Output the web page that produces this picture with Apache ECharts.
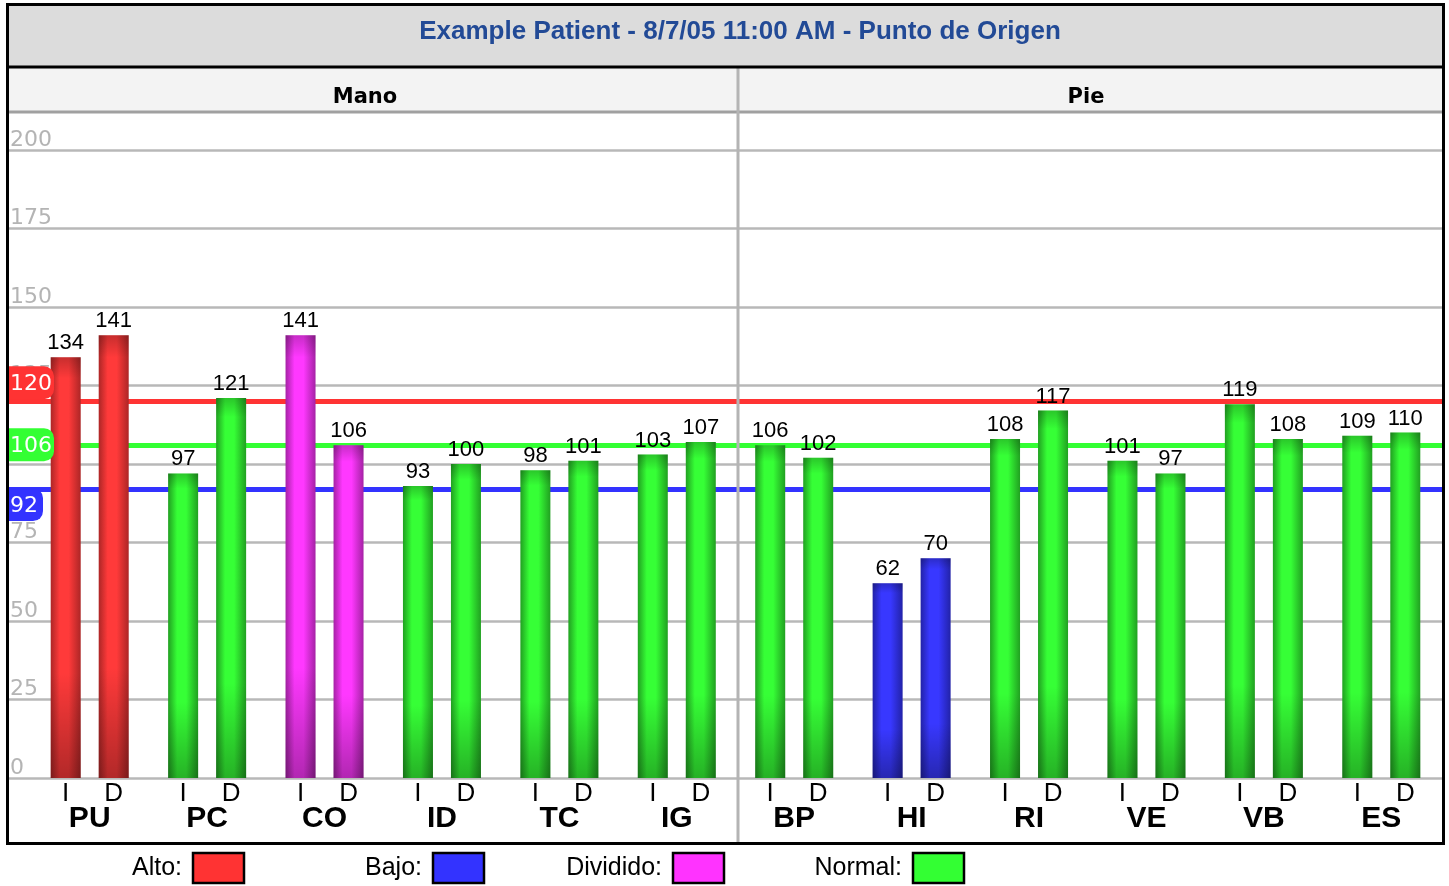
<!DOCTYPE html>
<html>
<head>
<meta charset="utf-8">
<script src="https://cdn.jsdelivr.net/npm/echarts@6/dist/echarts.min.js"></script>
<style>
html,body{margin:0;padding:0;background:#fff;}
#chart{width:1449px;height:886px;}
</style>
</head>
<body>
<div id="chart"></div>
<script>
// ---- data ----
const titleText = 'Example Patient - 8/7/05 11:00 AM - Punto de Origen';
const sections = ['Mano', 'Pie'];
const groups = ['PU','PC','CO','ID','TC','IG','BP','HI','RI','VE','VB','ES'];
const sideLabels = ['I', 'D'];
const valuesI = [134, 97, 141, 93, 98, 103, 106, 62, 108, 101, 119, 109];
const valuesD = [141, 121, 106, 100, 101, 107, 102, 70, 117, 97, 108, 110];
const groupStatus = ['Alto','Normal','Dividido','Normal','Normal','Normal','Normal','Bajo','Normal','Normal','Normal','Normal'];
const legendNames = ['Alto', 'Bajo', 'Dividido', 'Normal'];
const legendColors = ['#ff3333', '#3333ff', '#ff33ff', '#33ff33'];
const refValues = [120, 106, 92];
const refColors = ['#ff3333', '#33ff33', '#3333ff'];
const yMin = 0, yMax = 200, yInterval = 25;

// ---- styles ----
const statusShades = {
  Alto:     ['#ad2626', '#ff3a3a'],
  Bajo:     ['#2222a8', '#3838ff'],
  Dividido: ['#a522a5', '#ff38ff'],
  Normal:   ['#21a021', '#36ff36']
};
function barGradient(status) {
  const [dark, bright] = statusShades[status];
  return new echarts.graphic.LinearGradient(0, 0, 1, 0, [
    {offset: 0, color: dark},
    {offset: 0.3, color: bright},
    {offset: 0.6, color: bright},
    {offset: 1, color: dark}
  ]);
}
const shadeOverlay = new echarts.graphic.LinearGradient(0, 0, 0, 1, [
  {offset: 0, color: 'rgba(0,0,0,0.22)'},
  {offset: 0.05, color: 'rgba(0,0,0,0)'},
  {offset: 0.75, color: 'rgba(0,0,0,0)'},
  {offset: 1, color: 'rgba(0,0,0,0.3)'}
]);

const LEFT = 8, RIGHT = 1443, TOP = 5, TITLE_BOTTOM = 67, HEADER_BOTTOM = 112, BOTTOM = 843, MID = 738;

function makeData(values) {
  return values.map((v, i) => ({value: v, itemStyle: {color: barGradient(groupStatus[i])}}));
}

const chart = echarts.init(document.getElementById('chart'), null, {renderer: 'canvas'});

const valueLabel = {show: true, position: 'top', distance: 3, fontSize: 22, color: '#000', fontFamily: 'Liberation Sans'};

const option = {
  animation: false,
  backgroundColor: '#ffffff',
  grid: [
    {left: LEFT, right: 1449 - RIGHT, top: 150, bottom: 886 - 778, containLabel: false},
    {left: 31, right: 9, top: 150, bottom: 886 - 778, containLabel: false}
  ],
  xAxis: [
    {gridIndex: 0, type: 'value', show: false, min: 0, max: 1},
    {gridIndex: 1, type: 'category', data: groups, boundaryGap: true,
     axisLine: {show: false}, axisTick: {show: false}, splitLine: {show: false},
     axisLabel: {interval: 0, margin: 3, formatter: () => '{a|' + sideLabels[0] + '}{b|' + sideLabels[1] + '}',
       rich: {
         a: {width: 48, align: 'center', fontSize: 26, lineHeight: 26, color: '#000', fontFamily: 'Liberation Sans'},
         b: {width: 48, align: 'center', fontSize: 26, lineHeight: 26, color: '#000', fontFamily: 'Liberation Sans'}
       }}},
    {gridIndex: 1, type: 'category', data: groups, boundaryGap: true, position: 'bottom',
     axisLine: {show: false}, axisTick: {show: false}, splitLine: {show: false},
     axisLabel: {interval: 0, margin: 26, fontSize: 30, fontWeight: 'bold', color: '#000', fontFamily: 'Liberation Sans'}}
  ],
  yAxis: [
    {gridIndex: 0, type: 'value', min: yMin, max: yMax, interval: yInterval, z: 0,
     axisLine: {show: false}, axisTick: {show: false},
     splitLine: {show: true, lineStyle: {color: '#b8b8b8', width: 2.5}},
     axisLabel: {inside: true, margin: 2, verticalAlign: 'bottom', color: '#b4b4b4', fontSize: 22,
       fontFamily: 'DejaVu Sans', lineHeight: 20}},
    {gridIndex: 1, type: 'value', min: yMin, max: yMax, interval: yInterval, show: false,
     splitLine: {show: false}}
  ],
  series: [
    {type: 'line', xAxisIndex: 0, yAxisIndex: 0, data: [], z: 1, silent: true,
     markLine: {z: 1, silent: true, symbol: 'none', label: {show: false}, animation: false,
       data: refValues.map((v, i) => ({yAxis: v, lineStyle: {color: refColors[i], width: 5, type: 'solid'}}))}},
    {name: sideLabels[0], type: 'bar', xAxisIndex: 1, yAxisIndex: 1, barWidth: 30, barGap: '60%', z: 3,
     data: makeData(valuesI), label: valueLabel},
    {name: sideLabels[1], type: 'bar', xAxisIndex: 1, yAxisIndex: 1, barWidth: 30, barGap: '60%', z: 3,
     data: makeData(valuesD), label: valueLabel},
    {type: 'bar', xAxisIndex: 2, yAxisIndex: 1, barWidth: 30, barGap: '60%', z: 4, silent: true,
     data: valuesI, itemStyle: {color: shadeOverlay}},
    {type: 'bar', xAxisIndex: 2, yAxisIndex: 1, barWidth: 30, barGap: '60%', z: 4, silent: true,
     data: valuesD, itemStyle: {color: shadeOverlay}}
  ]
};
chart.setOption(option);

// ---- decorations (frame, headers, badges, legend) ----
const g = [];
g.push({type: 'rect', shape: {x: LEFT, y: TOP, width: RIGHT - LEFT, height: TITLE_BOTTOM - TOP},
  style: {fill: '#dcdcdc'}, z: -10, silent: true});
g.push({type: 'rect', shape: {x: LEFT, y: TITLE_BOTTOM, width: RIGHT - LEFT, height: HEADER_BOTTOM - TITLE_BOTTOM},
  style: {fill: '#f3f3f3'}, z: -10, silent: true});
g.push({type: 'text', x: 740, y: 32, z: 20,
  style: {text: titleText, fill: '#224a96', font: 'bold 26px "Liberation Sans"', align: 'center', verticalAlign: 'middle'}});
g.push({type: 'line', shape: {x1: LEFT, y1: HEADER_BOTTOM, x2: RIGHT, y2: HEADER_BOTTOM},
  style: {stroke: '#a0a0a0', lineWidth: 3}, z: 20});
g.push({type: 'line', shape: {x1: LEFT, y1: TITLE_BOTTOM, x2: RIGHT, y2: TITLE_BOTTOM},
  style: {stroke: '#000', lineWidth: 3}, z: 21});
g.push({type: 'line', shape: {x1: MID, y1: TITLE_BOTTOM, x2: MID, y2: BOTTOM},
  style: {stroke: '#b4b4b4', lineWidth: 3}, z: 20});
const secCenters = [365, 1086];
sections.forEach((s, i) => g.push({type: 'text', x: secCenters[i], y: 98, z: 20,
  style: {text: s, fill: '#000', font: 'bold 21px "DejaVu Sans"', align: 'center', verticalAlign: 'middle'}}));
// badges for reference lines
const badgeShift = [-18, 0, 16];
refValues.forEach((v, i) => {
  const py = chart.convertToPixel({yAxisIndex: 0}, v);
  const txt = String(v);
  const w = txt.length >= 3 ? 46 : 35;
  const cy = py + badgeShift[i];
  g.push({type: 'rect', shape: {x: LEFT, y: cy - 17, width: w, height: 33, r: [0, 10, 10, 0]},
    style: {fill: refColors[i]}, z: 30});
  g.push({type: 'text', x: LEFT + 2, y: cy + 1, z: 31,
    style: {text: txt, fill: '#fff', font: '22px "DejaVu Sans"', align: 'left', verticalAlign: 'middle'}});
});
// outer frame
g.push({type: 'rect', shape: {x: LEFT - 0.5, y: TOP - 0.5, width: RIGHT - LEFT + 1, height: BOTTOM - TOP + 1},
  style: {fill: 'none', stroke: '#000', lineWidth: 3}, z: 40});
// legend
legendNames.forEach((n, i) => {
  const bx = 193 + i * 240;
  g.push({type: 'text', x: bx - 11, y: 868, z: 20,
    style: {text: n + ':', fill: '#000', font: '25px "Liberation Sans"', align: 'right', verticalAlign: 'middle'}});
  g.push({type: 'rect', shape: {x: bx, y: 853, width: 51, height: 30},
    style: {fill: legendColors[i], stroke: '#000', lineWidth: 2.5}, z: 20});
});
chart.setOption({graphic: g});
</script>
</body>
</html>
